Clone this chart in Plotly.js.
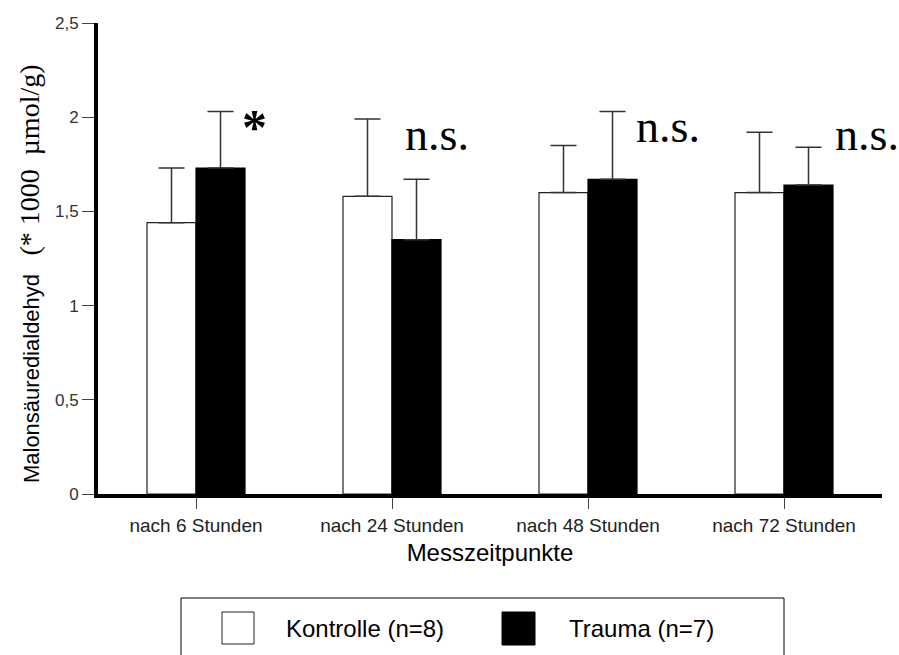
<!DOCTYPE html>
<html><head><meta charset="utf-8">
<script src="https://cdn.plot.ly/plotly-3.0.1.min.js"></script>
<style>html,body{margin:0;padding:0;background:#fff}</style>
</head><body>
<div id="chart" style="width:899px;height:655px"></div>
<script>
const categories = ['nach 6 Stunden', 'nach 24 Stunden', 'nach 48 Stunden', 'nach 72 Stunden'];
const kontrolle = [1.44, 1.58, 1.60, 1.60];
const kontrolleErr = [0.29, 0.41, 0.25, 0.32];
const trauma = [1.73, 1.35, 1.67, 1.64];
const traumaErr = [0.30, 0.32, 0.36, 0.20];
const significance = ['*', 'n.s.', 'n.s.', 'n.s.'];
const legendLabels = ['Kontrolle (n=8)', 'Trauma (n=7)'];
const yTickVals = [0, 0.5, 1, 1.5, 2, 2.5];

const sans = 'Liberation Sans, Arial, sans-serif';
const serif = 'Liberation Serif, Times New Roman, serif';

const errStyle = {color: '#333', thickness: 1.5, width: 13};

const traces = [
  {
    type: 'bar', name: legendLabels[0], x: categories, y: kontrolle,
    marker: {color: '#ffffff', line: {color: '#222', width: 1.2}},
    error_y: Object.assign({type: 'data', symmetric: false, array: kontrolleErr,
      arrayminus: kontrolleErr.map(() => 0)}, errStyle),
    showlegend: false, hoverinfo: 'x+y'
  },
  {
    type: 'bar', name: legendLabels[1], x: categories, y: trauma,
    marker: {color: '#000000', line: {color: '#000', width: 1.2}},
    error_y: Object.assign({type: 'data', symmetric: false, array: traumaErr,
      arrayminus: traumaErr.map(() => 0)}, errStyle),
    showlegend: false, hoverinfo: 'x+y'
  }
];

// placement of the significance marks
const sigPlace = [
  {y: 1.95, xshift: 58, xanchor: 'center', size: 50, bold: true},
  {y: 1.91, xshift: 11, xanchor: 'left', size: 46, bold: false},
  {y: 1.95, xshift: 46, xanchor: 'left', size: 46, bold: false},
  {y: 1.91, xshift: 49, xanchor: 'left', size: 46, bold: false}
];
const annotations = significance.map((t, i) => ({
  x: categories[i], y: sigPlace[i].y, xref: 'x', yref: 'y',
  text: sigPlace[i].bold ? '<b>' + t + '</b>' : t,
  showarrow: false, xanchor: sigPlace[i].xanchor, yanchor: 'middle',
  xshift: sigPlace[i].xshift,
  font: {family: serif, size: sigPlace[i].size, color: '#000'}
}));

// manual legend (px -> paper)
const px = v => (v - 98) / 784;
const py = v => (494 - v) / 471;
annotations.push(
  {xref: 'paper', yref: 'paper', x: px(284), y: py(628), xanchor: 'left', yanchor: 'middle',
   text: legendLabels[0], showarrow: false, font: {family: sans, size: 24, color: '#000'}},
  {xref: 'paper', yref: 'paper', x: px(567), y: py(628), xanchor: 'left', yanchor: 'middle',
   text: legendLabels[1], showarrow: false, font: {family: sans, size: 24, color: '#000'}}
);
const shapes = [
  {type: 'rect', xref: 'paper', yref: 'paper', x0: px(181), x1: px(784), y0: py(665), y1: py(598),
   line: {color: '#000', width: 1}, fillcolor: 'rgba(0,0,0,0)'},
  {type: 'rect', xref: 'paper', yref: 'paper', x0: px(222), x1: px(254), y0: py(644), y1: py(612),
   line: {color: '#222', width: 1}, fillcolor: '#fff'},
  {type: 'rect', xref: 'paper', yref: 'paper', x0: px(502), x1: px(535), y0: py(645), y1: py(612),
   line: {color: '#000', width: 1}, fillcolor: '#000'}
];

const layout = {
  width: 899, height: 655,
  margin: {l: 98, r: 17, t: 23, b: 161},
  paper_bgcolor: '#fff', plot_bgcolor: '#fff',
  separators: ',.',
  barmode: 'group', bargap: 0.5, bargroupgap: 0,
  showlegend: false,
  font: {family: sans, color: '#222'},
  xaxis: {
    type: 'category', range: [-0.5, 3.5],
    showline: true, linecolor: '#000', linewidth: 4,
    ticks: 'outside', ticklen: 11, tickwidth: 1, tickcolor: '#444',
    showgrid: false, zeroline: false,
    tickfont: {family: sans, size: 19, color: '#222'},
    title: {text: 'Messzeitpunkte', font: {family: sans, size: 24, color: '#000'}, standoff: 10}
  },
  yaxis: {
    range: [0, 2.5], tickvals: yTickVals,
    showline: true, linecolor: '#000', linewidth: 4,
    ticks: 'outside', ticklen: 12, tickwidth: 1, tickcolor: '#444',
    showgrid: false, zeroline: false,
    tickfont: {family: sans, size: 17, color: '#333'},
    title: {
      text: 'Malonsäuredialdehyd&nbsp;&nbsp;&nbsp;<span style="font-family:Liberation Serif;font-size:28px">(*&nbsp;1000&nbsp;&nbsp;µmol/g)</span>&nbsp;&nbsp;&nbsp;&nbsp;&nbsp;',
      font: {family: sans, size: 22, color: '#000'}, standoff: 10
    }
  },
  annotations: annotations,
  shapes: shapes
};

Plotly.newPlot('chart', traces, layout, {displayModeBar: false, staticPlot: true});
</script>
</body></html>
